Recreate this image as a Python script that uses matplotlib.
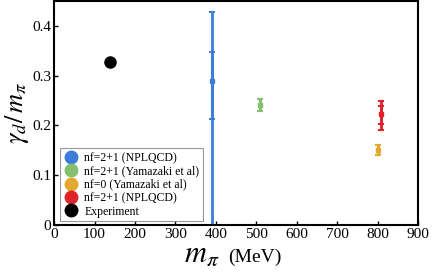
import matplotlib
matplotlib.use("Agg")
import matplotlib.pyplot as plt
import numpy as np

plt.rcParams['font.family'] = ['Liberation Serif', 'DejaVu Serif']
plt.rcParams['mathtext.fontset'] = 'stix'

# data
labels = ["nf=2+1 (NPLQCD)", "nf=2+1 (Yamazaki et al)", "nf=0 (Yamazaki et al)",
          "nf=2+1 (NPLQCD)", "Experiment"]
colors = ["#3b7dd8", "#84c06e", "#e3a92e", "#e0232b", "black"]

m_pi = [390, 510, 801, 807]
center = [0.289, 0.241, 0.151, 0.223]
stat_lo = [0.213, 0.229, 0.141, 0.203]
stat_hi = [0.348, 0.254, 0.161, 0.240]
tot_lo = [-0.30, 0.229, 0.141, 0.191]
tot_hi = [0.428, 0.254, 0.161, 0.250]

exp_m = 139
exp_val = 0.328

fig = plt.figure(figsize=(4.43, 2.75), dpi=100)
ax = fig.add_axes([0.122, 0.182, 0.822, 0.814])

for i in range(len(m_pi)):
    c = colors[i]
    ax.errorbar(m_pi[i], center[i],
                yerr=[[center[i] - tot_lo[i]], [tot_hi[i] - center[i]]],
                fmt='none', ecolor=c, elinewidth=2, capsize=2.2, capthick=1.5)
    ax.errorbar(m_pi[i], center[i],
                yerr=[[center[i] - stat_lo[i]], [stat_hi[i] - center[i]]],
                fmt='none', ecolor=c, elinewidth=2, capsize=2.2, capthick=1.5)
    ax.plot(m_pi[i], center[i], 's', color=c, ms=2.5)

ax.plot(exp_m, exp_val, 'o', color='black', ms=8)

# legend handles
for lab, c in zip(labels, colors):
    ax.plot([], [], 'o', color=c, ms=9, label=lab)
leg = ax.legend(loc='lower left', bbox_to_anchor=(0.015, 0.017), fontsize=8.5,
                frameon=True, fancybox=False, edgecolor='gray',
                handletextpad=0.5, labelspacing=0.12, borderpad=0.3,
                handlelength=1.3, borderaxespad=0)
leg.get_frame().set_linewidth(0.8)

ax.set_xlim(0, 900)
ax.set_ylim(0, 0.45)
ax.set_xticks(np.arange(0, 1000, 100))
ax.set_yticks([0, 0.1, 0.2, 0.3, 0.4])
ax.set_yticklabels(["0", "0.1", "0.2", "0.3", "0.4"])
ax.tick_params(direction='in', length=3, width=1, labelsize=11, pad=2)
for s in ax.spines.values():
    s.set_linewidth(1.5)

# x label: big italic m_pi followed by smaller (MeV)
fig.text(0.455, 0.048, r"$m_\pi$", fontsize=22, ha='center', va='baseline')
fig.text(0.516, 0.048, "(MeV)", fontsize=14, ha='left', va='baseline')
ax.set_ylabel(r"$\gamma_d/\,m_\pi$", fontsize=19, labelpad=1)

fig.savefig("out.png", dpi=100)
